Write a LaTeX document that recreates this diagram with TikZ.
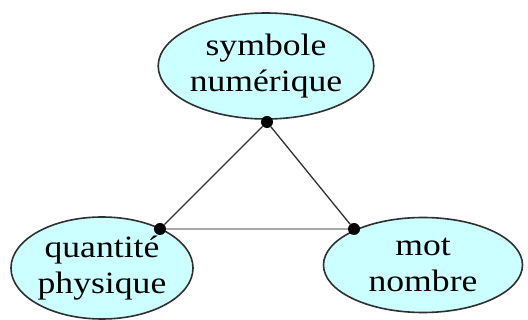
\documentclass[tikz,border=0pt]{standalone}
\usepackage{fontspec}
\setmainfont{Liberation Serif}[FakeStretch=1.15]
\usetikzlibrary{shapes.geometric}
\definecolor{fillc}{HTML}{CCFFFF}
\definecolor{edgec}{HTML}{303030}
\definecolor{lightline}{HTML}{A8A8A8}
\tikzset{
  bubble/.style={ellipse, draw=edgec, line width=1.6pt, fill=fillc, inner sep=0pt,
    align=center, font=\fontsize{31}{36}\selectfont, text=black},
  dot/.style={circle, fill=black, inner sep=0pt, minimum size=12pt},
  link/.style={draw=edgec, line width=1.3pt},
  baselink/.style={draw=lightline, line width=2.6pt}
}
\begin{document}
\begin{tikzpicture}[x=1pt,y=-1pt]
\useasboundingbox (0,0) rectangle (528,320);
\node[bubble, minimum width=182pt, minimum height=106pt] (top) at (266,66) {symbole\\numérique};
\node[bubble, minimum width=182pt, minimum height=102pt] (left) at (102,268) {quantité\\physique};
\node[bubble, minimum width=199pt, minimum height=95pt] (right) at (423,265) {mot\\nombre};
\node[dot] (dtop) at (267,122) {};
\node[dot] (dleft) at (160,229) {};
\node[dot] (dright) at (354,229) {};
\draw[baselink] (dleft) -- (dright);
\draw[link] (dtop) -- (dleft);
\draw[link] (dtop) -- (dright);
\end{tikzpicture}
\end{document}
